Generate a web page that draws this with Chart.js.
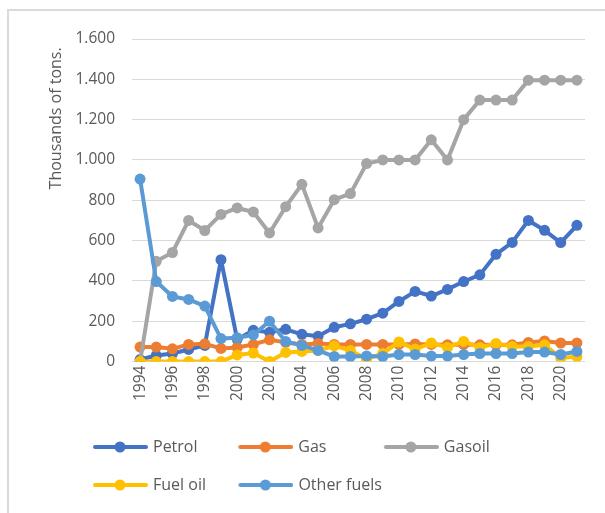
<!DOCTYPE html>
<html lang="en">
<head>
  <meta charset="UTF-8">
  <title>Fuel consumption 1994-2021</title>
  <script src="https://cdn.jsdelivr.net/npm/chart.js"></script>
  <style>
    html, body {
      margin: 0;
      padding: 0;
      background: #fff;
    }

    .frame {
      position: relative;
      width: 605px;
      height: 513px;
      overflow: hidden;
    }

    .frame .edge {
      position: absolute;
      left: 7px;
      top: 9px;
      right: -10px;
      bottom: -10px;
      border-top: 2px solid #dadada;
      border-left: 2px solid #dadada;
    }

    canvas {
      position: absolute;
      left: 0;
      top: 0;
    }
  </style>
</head>
<body>
  <div class="frame">
    <div class="edge"></div>
    <canvas id="fuelChart" width="605" height="513"></canvas>
  </div>

  <script>
    const years = ['1994', '1995', '1996', '1997', '1998', '1999', '2000', '2001', '2002', '2003',
                   '2004', '2005', '2006', '2007', '2008', '2009', '2010', '2011', '2012', '2013',
                   '2014', '2015', '2016', '2017', '2018', '2019', '2020', '2021'];

    const petrol = [10, 30, 40, 60, 80, 505, 110, 155, 145, 160, 135, 125, 170, 187, 210, 240,
                    298, 348, 325, 358, 397, 430, 532, 591, 700, 651, 590, 676];
    const gas = [72, 72, 63, 85, 88, 65, 70, 85, 108, 95, 85, 90, 85, 85, 85, 85,
                 85, 87, 85, 83, 85, 83, 83, 83, 95, 102, 92, 92];
    const gasoil = [0, 497, 541, 700, 650, 730, 762, 742, 638, 768, 879, 663, 803, 833, 982, 1000,
                    1000, 1000, 1100, 1000, 1200, 1297, 1297, 1297, 1396, 1396, 1396, 1396];
    const fuelOil = [0, 0, 0, 0, 0, 0, 33, 42, 0, 45, 50, 55, 78, 55, 12, 40,
                     97, 62, 92, 70, 100, 70, 90, 75, 75, 83, 17, 25];
    const otherFuels = [905, 397, 323, 308, 275, 114, 118, 132, 200, 100, 80, 55, 25, 25, 28, 25,
                        35, 35, 27, 27, 35, 40, 40, 40, 47, 47, 35, 50];

    const yTicks = [0, 200, 400, 600, 800, 1000, 1200, 1400, 1600];

    const textColor = '#595959';
    const gridColor = '#d9d9d9';
    Chart.defaults.font.family = "'Open Sans', sans-serif";

    // 1600 -> "1.600"
    function thousands(v) {
      return String(v).replace(/\B(?=(\d{3})+(?!\d))/g, '.');
    }

    function series(label, data, color, order) {
      return {
        label: label,
        data: data,
        borderColor: color,
        backgroundColor: color,
        pointBackgroundColor: color,
        pointBorderColor: color,
        borderWidth: 4,
        borderJoinStyle: 'round',
        borderCapStyle: 'round',
        pointRadius: 5.5,
        pointHoverRadius: 5.5,
        pointBorderWidth: 0,
        tension: 0,
        order: order
      };
    }

    // legend symbol: line with a dot, like the Excel legend
    function legendIcon(color) {
      const c = document.createElement('canvas');
      c.width = 56;
      c.height = 12;
      const g = c.getContext('2d');
      g.strokeStyle = color;
      g.lineWidth = 4;
      g.lineCap = 'round';
      g.beginPath();
      g.moveTo(3, 6);
      g.lineTo(54, 6);
      g.stroke();
      g.fillStyle = color;
      g.beginPath();
      g.arc(28, 6, 5.5, 0, Math.PI * 2);
      g.fill();
      return c;
    }

    const legendFont = '16px "Open Sans"';
    const measureCtx = document.createElement('canvas').getContext('2d');
    measureCtx.font = legendFont;

    // pad legend text so the items sit in fixed columns
    function padLabel(text, width) {
      let t = text;
      while (measureCtx.measureText(t + ' ').width <= width) t += ' ';
      return t;
    }

    // put the legend where Excel has it
    const legendPlacement = {
      id: 'legendPlacement',
      afterLayout(chart) {
        const lg = chart.legend;
        const h = lg.bottom - lg.top;
        lg.left = 73;
        lg.top = 417;
        lg.bottom = lg.top + h;
      }
    };

    const ctx = document.getElementById('fuelChart').getContext('2d');

    const fuelChart = new Chart(ctx, {
      type: 'line',
      data: {
        labels: years,
        datasets: [
          series('Petrol', petrol, '#4472c4', 5),
          series('Gas', gas, '#ed7d31', 4),
          series('Gasoil', gasoil, '#a5a5a5', 3),
          series('Fuel oil', fuelOil, '#ffc000', 2),
          series('Other fuels', otherFuels, '#5b9bd5', 1)
        ]
      },
      options: {
        responsive: false,
        animation: false,
        events: [],
        layout: {
          padding: { left: 43, right: 20, top: 39, bottom: 22 }
        },
        scales: {
          x: {
            offset: true,
            grid: { display: false, drawTicks: false },
            border: { display: false },
            ticks: {
              autoSkip: false,
              minRotation: 90,
              maxRotation: 90,
              padding: 4,
              color: textColor,
              font: { size: 15.5 },
              callback: (v, i) => (i % 2 === 0 ? years[i] : '')
            }
          },
          y: {
            min: yTicks[0],
            max: yTicks[yTicks.length - 1],
            afterBuildTicks: scale => {
              scale.ticks = yTicks.map(v => ({ value: v }));
            },
            afterFit: scale => {
              scale.width = 89;
            },
            grid: { color: gridColor, lineWidth: 1, drawTicks: false },
            border: { display: false },
            ticks: {
              padding: 17,
              color: textColor,
              font: { size: 15.5 },
              callback: v => thousands(v)
            },
            title: {
              display: true,
              text: 'Thousands of tons.  ',
              align: 'end',
              color: textColor,
              font: { size: 16 },
              padding: { top: 4, bottom: 4 }
            }
          }
        },
        plugins: {
          tooltip: { enabled: false },
          legend: {
            position: 'bottom',
            align: 'start',
            labels: {
              usePointStyle: true,
              pointStyleWidth: 50,
              padding: 22,
              color: textColor,
              font: { size: 16 },
              generateLabels: chart => {
                const sets = chart.data.datasets;
                return sets.map((ds, i) => ({
                  text: i === sets.length - 1 ? ds.label : padLabel(ds.label, 69),
                  fillStyle: ds.borderColor,
                  strokeStyle: ds.borderColor,
                  lineWidth: 0,
                  pointStyle: legendIcon(ds.borderColor),
                  fontColor: textColor,
                  hidden: false,
                  datasetIndex: i
                }));
              }
            }
          }
        }
      },
      plugins: [legendPlacement]
    });
  </script>
</body>
</html>
